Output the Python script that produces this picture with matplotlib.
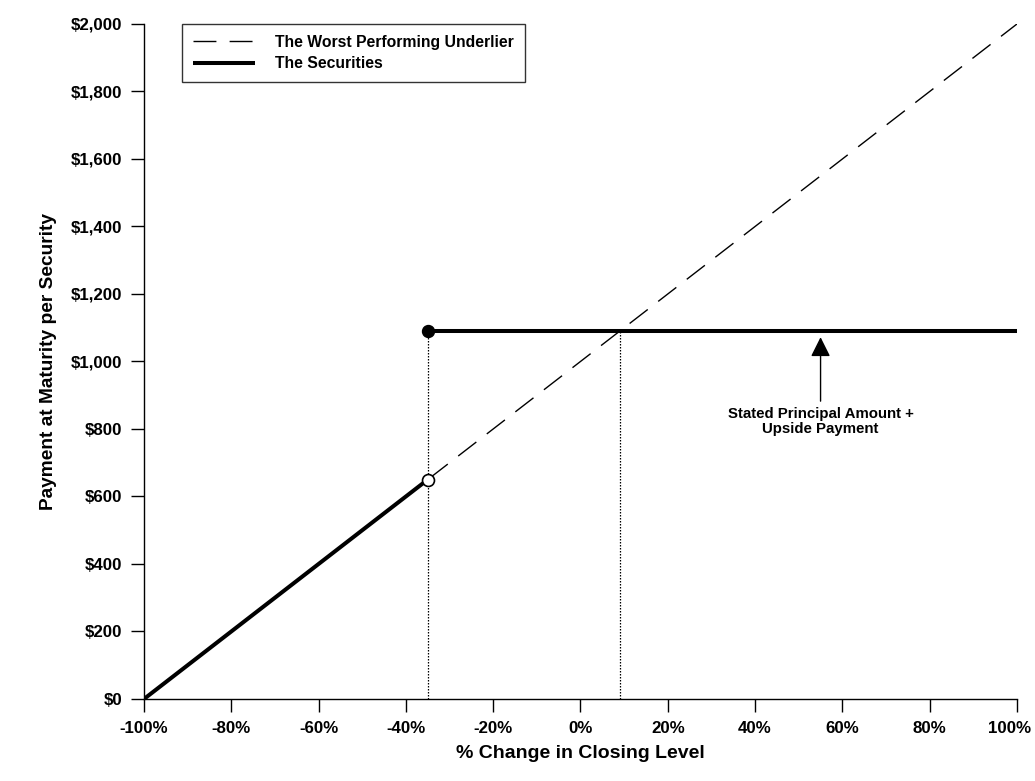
import matplotlib.pyplot as plt
import matplotlib.transforms as mtransforms
from matplotlib.ticker import FuncFormatter

plt.rcParams['font.family'] = ['Liberation Sans', 'DejaVu Sans']
plt.rcParams['font.weight'] = 'bold'

# worst performing underlier: payment = 1000 * (1 + change)
underlier_x = [-100, 100]
underlier_y = [0, 2000]

# securities payoff
barrier = -35
cap_value = 1090
low_x = [-100, barrier]
low_y = [0, 650]
flat_x = [barrier, 100]
flat_y = [cap_value, cap_value]
breakeven_x = 9

x_ticks = list(range(-100, 101, 20))
y_ticks = list(range(0, 2001, 200))

fig = plt.figure(figsize=(10.35, 7.81), dpi=100)
ax = fig.add_axes([0.1391, 0.105, 0.8435, 0.8643])

ax.plot(underlier_x, underlier_y, color='black', lw=1, dashes=(16.5, 9.5),
        label='The Worst Performing Underlier')
ax.plot(low_x, low_y, color='black', lw=2.9, solid_capstyle='butt',
        label='The Securities')
ax.plot(flat_x, flat_y, color='black', lw=2.9, solid_capstyle='butt')

ax.plot([barrier, barrier], [0, cap_value], color='black', lw=0.9, ls=(0, (1.2, 1.2)))
ax.plot([breakeven_x, breakeven_x], [0, cap_value], color='black', lw=0.9, ls=(0, (1.2, 1.2)))

ax.plot(barrier, low_y[1], 'o', ms=8.6, mfc='white', mec='black', mew=1.2, zorder=5)
ax.plot(barrier, cap_value, 'o', ms=8.6, mfc='black', mec='black', zorder=5)

ax.annotate('Stated Principal Amount +\nUpside Payment', xy=(55, 1072), xytext=(55, 866),
            ha='center', va='top', fontsize=10.8, fontweight='bold', linespacing=1.15,
            arrowprops=dict(arrowstyle='-|>', color='black', lw=1,
                            mutation_scale=30, shrinkA=2, shrinkB=0))

ax.set_xlim(-100, 100)
ax.set_ylim(0, 2000)
ax.set_xticks(x_ticks)
ax.set_yticks(y_ticks)
ax.xaxis.set_major_formatter(FuncFormatter(lambda v, p: f'{v:.0f}%'))
ax.yaxis.set_major_formatter(FuncFormatter(lambda v, p: f'${v:,.0f}'))
ax.tick_params(direction='out', length=9.5, width=1, labelsize=12.2)
ax.tick_params(axis='y', pad=6)
ax.tick_params(axis='x', pad=6.5)

# pull the last x label inside the figure
last = ax.get_xticklabels()[-1]
last.set_transform(last.get_transform() +
                   mtransforms.ScaledTranslation(-7 / 100, 0, fig.dpi_scale_trans))

for s in ['top', 'right']:
    ax.spines[s].set_visible(False)
for s in ['left', 'bottom']:
    ax.spines[s].set_linewidth(1)

ax.set_xlabel('% Change in Closing Level', fontsize=14, fontweight='bold', labelpad=6)
ax.set_ylabel('Payment at Maturity per Security', fontsize=13.8, fontweight='bold', labelpad=10)

leg = ax.legend(loc='upper left', bbox_to_anchor=(0.0435, 1.0), fontsize=11.3,
                frameon=True, fancybox=False, edgecolor='black', handlelength=3.95,
                borderpad=0.7, labelspacing=0.4, handletextpad=1.27, borderaxespad=0)
leg.get_frame().set_linewidth(1)

plt.savefig('out.png', dpi=100)
